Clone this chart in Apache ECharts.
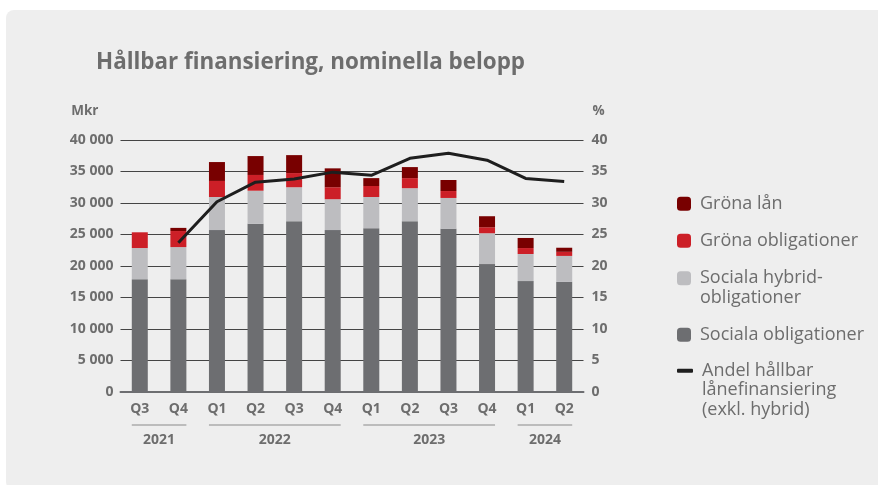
<!DOCTYPE html>
<html>
<head>
<meta charset="utf-8">
<script src="https://cdn.jsdelivr.net/npm/echarts@6/dist/echarts.min.js"></script>
<style>
  html, body { margin: 0; padding: 0; background: #fff; }
  #panel { position: absolute; left: 6px; top: 10px; width: 880px; height: 480px; background: #eeeeee; border-radius: 8px; }
  #chart { position: absolute; left: 0; top: 0; width: 878px; height: 485px; }
</style>
</head>
<body>
<div id="panel"></div>
<div id="chart"></div>
<script>
// data
const quarters = ["Q3", "Q4", "Q1", "Q2", "Q3", "Q4", "Q1", "Q2", "Q3", "Q4", "Q1", "Q2"];
const years = ["2021", "2022", "2023", "2024"];
const yearSpans = [[0, 1], [2, 5], [6, 9], [10, 11]];
const socialaObl = [17900, 17900, 25700, 26700, 27100, 25700, 26000, 27100, 25900, 20300, 17600, 17500];
const socialaHybrid = [4950, 5100, 5250, 5250, 5400, 4900, 4950, 5250, 4900, 4900, 4300, 4100];
const gronaObl = [2500, 2550, 2550, 2500, 2250, 1900, 1750, 1600, 1100, 950, 950, 650];
const gronaLan = [0, 500, 3000, 3000, 2850, 3000, 1250, 1750, 1750, 1750, 1600, 650];
const andel = [null, 23.7, 30.2, 33.3, 33.8, 34.9, 34.4, 37.1, 37.9, 36.8, 33.9, 33.4];

const font = "Open Sans";
const grey = "#6d6d6d";

let chart = echarts.init(document.getElementById("chart"));

function fmt(v) {
  return String(v).replace(/\B(?=(\d{3})+(?!\d))/g, " ");
}

// one legend per item so the marker sits on the first text line
// (blank lines on top push the first real line onto the marker)
function legendItem(name, top, lines, opts) {
  return Object.assign({
    orient: "vertical",
    left: 677,
    top: top,
    padding: 0,
    itemWidth: 14,
    itemHeight: 14,
    selectedMode: false,
    data: [name],
    formatter: function (n) {
      return " \n".repeat(lines - 1) + n;
    },
    textStyle: {
      color: grey,
      fontFamily: font,
      fontSize: 18,
      lineHeight: 19.5,
      padding: [0, 0, 0, 4],
    },
  }, opts || {});
}

let options = {
  animation: false,
  title: {
    text: "Hållbar finansiering, nominella belopp",
    left: 96,
    top: 49,
    padding: 0,
    textStyle: { color: grey, fontFamily: font, fontWeight: "bold", fontSize: 22.4, lineHeight: 28 },
  },
  legend: [
    legendItem("Gröna lån", 194, 1),
    legendItem("Gröna obligationer", 231, 1),
    legendItem("Sociala hybrid-\nobligationer", 249, 2),
    legendItem("Sociala obligationer", 325, 1),
    legendItem("Andel hållbar\nlånefinansiering\n(exkl. hybrid)", 322, 3, {
      itemWidth: 16,
      itemHeight: 4,
      icon: "roundRect",
    }),
  ],
  grid: { left: 120.5, right: 294.5, top: 140, bottom: 93 },
  xAxis: {
    type: "category",
    data: quarters,
    axisLine: { lineStyle: { color: "#6d6e71", width: 2 } },
    axisTick: { show: false },
    axisLabel: { color: grey, fontFamily: font, fontWeight: "bold", fontSize: 14, margin: 10 },
  },
  yAxis: [
    {
      type: "value",
      min: 0,
      max: 40000,
      interval: 5000,
      name: "Mkr",
      nameLocation: "end",
      nameGap: 29,
      nameTextStyle: { color: grey, fontFamily: font, fontWeight: "bold", fontSize: 13.5, align: "right", verticalAlign: "middle", padding: [0, 22, 0, 0] },
      axisLine: { show: false },
      axisTick: { show: false },
      axisLabel: { color: grey, fontFamily: font, fontWeight: "bold", fontSize: 14, margin: 7, formatter: fmt },
      splitLine: { lineStyle: { color: "#444", width: 1 } },
    },
    {
      type: "value",
      min: 0,
      max: 40,
      interval: 5,
      name: "%",
      nameLocation: "end",
      nameGap: 29,
      nameTextStyle: { color: grey, fontFamily: font, fontWeight: "bold", fontSize: 13.5, align: "left", verticalAlign: "middle", padding: [0, 0, 0, 9] },
      axisLine: { show: false },
      axisTick: { show: false },
      axisLabel: { color: grey, fontFamily: font, fontWeight: "bold", fontSize: 14, margin: 8 },
      splitLine: { show: false },
    },
  ],
  series: [
    { name: "Sociala obligationer", type: "bar", stack: "s", barWidth: 16, data: socialaObl, itemStyle: { color: "#6d6e71" } },
    { name: "Sociala hybrid-\nobligationer", type: "bar", stack: "s", barWidth: 16, data: socialaHybrid, itemStyle: { color: "#bdbdc0" } },
    { name: "Gröna obligationer", type: "bar", stack: "s", barWidth: 16, data: gronaObl, itemStyle: { color: "#cc1f27" } },
    { name: "Gröna lån", type: "bar", stack: "s", barWidth: 16, data: gronaLan, itemStyle: { color: "#780000" } },
    {
      name: "Andel hållbar\nlånefinansiering\n(exkl. hybrid)",
      type: "line",
      yAxisIndex: 1,
      data: andel,
      showSymbol: false,
      symbol: "none",
      itemStyle: { color: "#1e1e1e" },
      lineStyle: { color: "#1e1e1e", width: 3 },
    },
    {
      // year groups under the quarter labels
      type: "custom",
      silent: true,
      clip: false,
      data: yearSpans.map((s) => [s[0], s[1], 0]),
      encode: { x: [0, 1], y: 2 },
      renderItem: function (params, api) {
        let a = api.coord([api.value(0), 0]);
        let b = api.coord([api.value(1), 0]);
        let half = 8;
        let y = a[1];
        return {
          type: "group",
          children: [
            {
              type: "line",
              shape: { x1: a[0] - half, y1: y + 33, x2: b[0] + half, y2: y + 33 },
              style: { stroke: "#8a8a8a", lineWidth: 1 },
            },
            {
              type: "text",
              style: {
                x: (a[0] + b[0]) / 2,
                y: y + 48,
                text: years[params.dataIndex],
                align: "center",
                verticalAlign: "middle",
                fill: grey,
                font: "bold 14px '" + font + "'",
              },
            },
          ],
        };
      },
    },
  ],
};

chart.setOption(options);
window.addEventListener("resize", function () {
  chart.resize();
});
</script>
</body>
</html>
